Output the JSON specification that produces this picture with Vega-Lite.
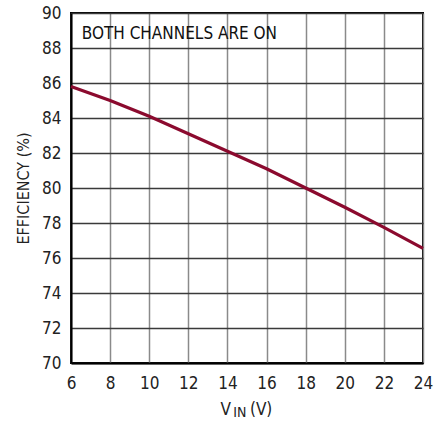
{
  "$schema": "https://vega.github.io/schema/vega-lite/v6.json",
  "width": 352,
  "height": 350,
  "autosize": {"type": "none"},
  "padding": {"left": 71, "top": 13, "right": 22, "bottom": 61},
  "background": "white",
  "config": {
    "font": "DejaVu Sans Condensed, Roboto, sans-serif",
    "view": {"stroke": "black", "strokeWidth": 2},
    "axis": {"labelFont": "DejaVu Sans Condensed, Roboto, sans-serif", "titleFont": "DejaVu Sans Condensed, Roboto, sans-serif"}
  },
  "datasets": {
    "curve": [
      {"vin": 6, "eff": 85.8},
      {"vin": 8, "eff": 85.0},
      {"vin": 10, "eff": 84.1},
      {"vin": 12, "eff": 83.1},
      {"vin": 14, "eff": 82.1},
      {"vin": 16, "eff": 81.1},
      {"vin": 18, "eff": 80.0},
      {"vin": 20, "eff": 78.9},
      {"vin": 22, "eff": 77.75},
      {"vin": 24, "eff": 76.55}
    ],
    "notes": [
      {"vin": 6.55, "eff": 88.5, "label": "BOTH CHANNELS ARE ON"}
    ],
    "xtitle": [
      {"vin": 13.65, "eff": 67.03, "label": "V", "part": "main"},
      {"vin": 14.3, "eff": 66.9, "label": "IN", "part": "sub"},
      {"vin": 15.15, "eff": 67.03, "label": "(V)", "part": "main"}
    ]
  },
  "encoding": {
    "x": {
      "field": "vin", "type": "quantitative",
      "scale": {"domain": [6, 24], "nice": false, "zero": false},
      "axis": {
        "values": [6, 8, 10, 12, 14, 16, 18, 20, 22, 24],
        "tickCount": 20,
        "title": null,
        "grid": true, "gridColor": "#8a8a8a", "gridWidth": 1.5, "gridOpacity": 1,
        "domain": true, "domainColor": "black", "domainWidth": 2,
        "ticks": false,
        "labelFontSize": 17, "labelColor": "#222", "labelPadding": 12,
        "labelFlush": false, "labelOverlap": false
      }
    },
    "y": {
      "field": "eff", "type": "quantitative",
      "scale": {"domain": [70, 90], "nice": false, "zero": false},
      "axis": {
        "values": [70, 72, 74, 76, 78, 80, 82, 84, 86, 88, 90],
        "tickCount": 20,
        "title": "EFFICIENCY (%)",
        "titleFontSize": 16, "titleFontWeight": "normal", "titleColor": "#222",
        "titlePadding": 10,
        "grid": true, "gridColor": "#3a3a3a", "gridWidth": 1.3, "gridOpacity": 1,
        "domain": true, "domainColor": "black", "domainWidth": 2,
        "ticks": false,
        "labelFontSize": 17, "labelColor": "#222", "labelPadding": 10,
        "labelFlush": false, "labelOverlap": false
      }
    }
  },
  "layer": [
    {
      "data": {"name": "curve"},
      "mark": {"type": "line", "color": "#8B0A2E", "strokeWidth": 3.2}
    },
    {
      "data": {"name": "notes"},
      "mark": {"type": "text", "align": "left", "baseline": "alphabetic", "fontSize": 17, "color": "#111"},
      "encoding": {"text": {"field": "label"}}
    },
    {
      "data": {"name": "xtitle"},
      "mark": {"type": "text", "align": "left", "baseline": "alphabetic", "color": "#222"},
      "encoding": {
        "text": {"field": "label"},
        "size": {
          "field": "part", "type": "nominal",
          "scale": {"domain": ["main", "sub"], "range": [17, 14]},
          "legend": null
        }
      }
    }
  ]
}
